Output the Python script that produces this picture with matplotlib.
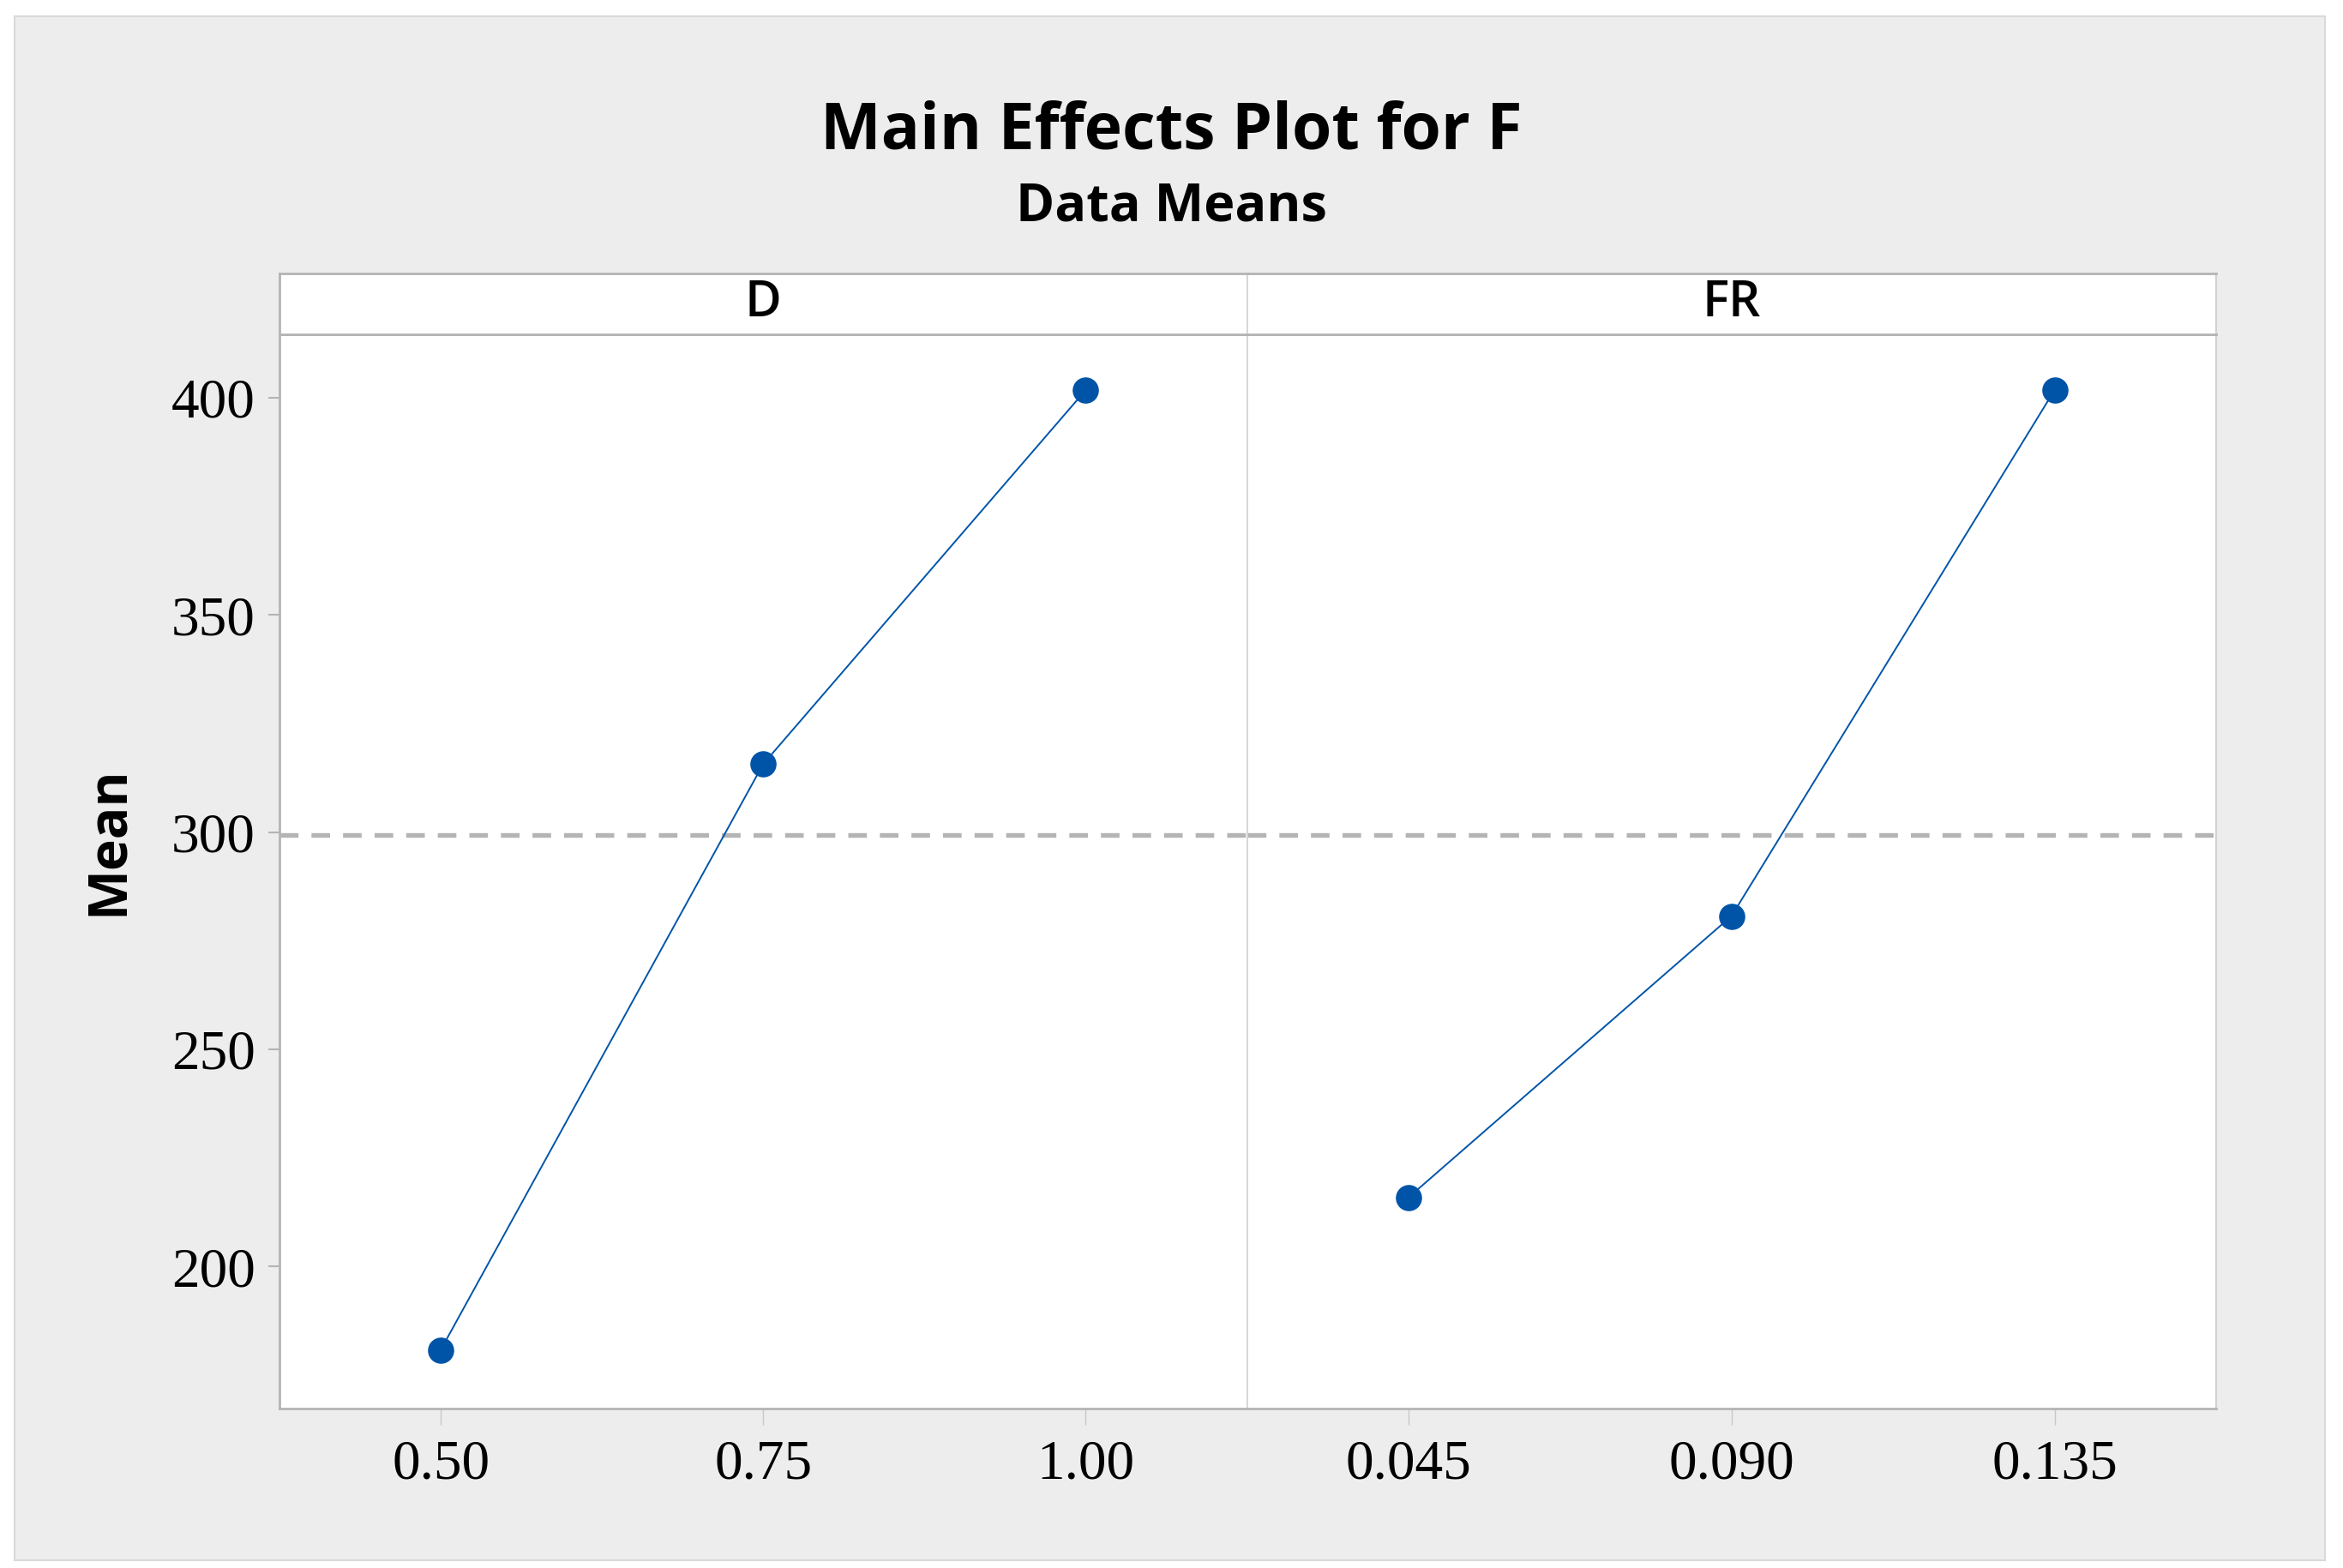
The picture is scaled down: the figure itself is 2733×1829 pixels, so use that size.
import matplotlib
matplotlib.use('Agg')
import matplotlib.pyplot as plt
from matplotlib.patches import Rectangle

# main effects data
d_levels = [0.50, 0.75, 1.00]
d_means = [180.8, 315.7, 401.8]
d_labels = ['0.50', '0.75', '1.00']
fr_levels = [0.045, 0.090, 0.135]
fr_means = [215.9, 280.7, 401.8]
fr_labels = ['0.045', '0.090', '0.135']
y_ticks = [200, 250, 300, 350, 400]
factor_names = ['D', 'FR']

grand_mean = sum(d_means) / len(d_means)

W, H = 2733, 1829
fig = plt.figure(figsize=(W / 100, H / 100), dpi=100)
fig.patch.set_facecolor('white')

# grey background panel with thin border
fig.patches.append(Rectangle((17 / W, 1 - 1820 / H), (2712 - 17) / W, (1820 - 19) / H,
                             transform=fig.transFigure, facecolor='#EDEDED',
                             edgecolor='#D9D9D9', lw=1.5, zorder=-10))

sans = ['Open Sans', 'DejaVu Sans']
serif = ['Liberation Serif', 'DejaVu Serif']
edge = '#B4B4B4'
inner = '#D2D2D2'
blue = '#0054A8'

left, mid, right = 326 / W, 1454.5 / W, 2585 / W
bottom, top, strip_top = 1 - 1643 / H, 1 - 389.7 / H, 1 - 319 / H

panels = [
    (left, mid - left, d_levels, d_means, d_labels, (0.375, 1.125)),
    (mid, right - mid, fr_levels, fr_means, fr_labels, (0.0225, 0.1575)),
]

for i, (x0, w, lv, mn, lab, xl) in enumerate(panels):
    ax = fig.add_axes([x0, bottom, w, top - bottom])
    sax = fig.add_axes([x0, top, w, strip_top - top])

    ax.plot(lv, mn, color=blue, lw=1.4, marker='o', markersize=21,
            markerfacecolor=blue, markeredgecolor=blue, zorder=3)
    ax.axhline(grand_mean, color='#B4B4B4', lw=3.9, dashes=(4, 2.8), zorder=2)

    ax.set_xlim(*xl)
    ax.set_ylim(167.3, 414.7)
    ax.set_xticks(lv)
    ax.set_xticklabels(lab, fontfamily=serif, fontsize=47)
    ax.tick_params(axis='x', length=13.7, width=1, color='#C8C8C8', pad=12)

    if i == 0:
        ax.set_yticks(y_ticks)
        ax.set_yticklabels([str(t) for t in y_ticks], fontfamily=serif, fontsize=47)
        ax.tick_params(axis='y', length=9.5, width=1.5, color=edge, pad=11)
    else:
        ax.set_yticks([])

    for a in (ax, sax):
        for s in a.spines.values():
            s.set_color(edge)
            s.set_linewidth(2)
        # divider between the two panels is lighter
        side = 'right' if i == 0 else 'left'
        a.spines[side].set_color(inner)
        a.spines[side].set_linewidth(1.2)
        if i == 1:
            a.spines['right'].set_color(inner)
            a.spines['right'].set_linewidth(1.5)

    sax.set_xticks([])
    sax.set_yticks([])
    sax.text(0.5, 0.5, factor_names[i], transform=sax.transAxes, ha='center',
             va='center', fontsize=42, fontweight='semibold', family=sans)

fig.text(0.5, 1 - 173 / H, 'Main Effects Plot for F', ha='center', va='baseline',
         fontsize=54, fontweight='bold', family=sans)
fig.text(0.5, 1 - 257 / H, 'Data Means', ha='center', va='baseline',
         fontsize=44, fontweight='bold', family=sans)
fig.text(126 / W, 1 - 981 / H, 'Mean', rotation=90, ha='center', va='center',
         fontsize=45, fontweight='bold', family=sans)

fig.savefig('out.png', dpi=100, facecolor=fig.get_facecolor())
